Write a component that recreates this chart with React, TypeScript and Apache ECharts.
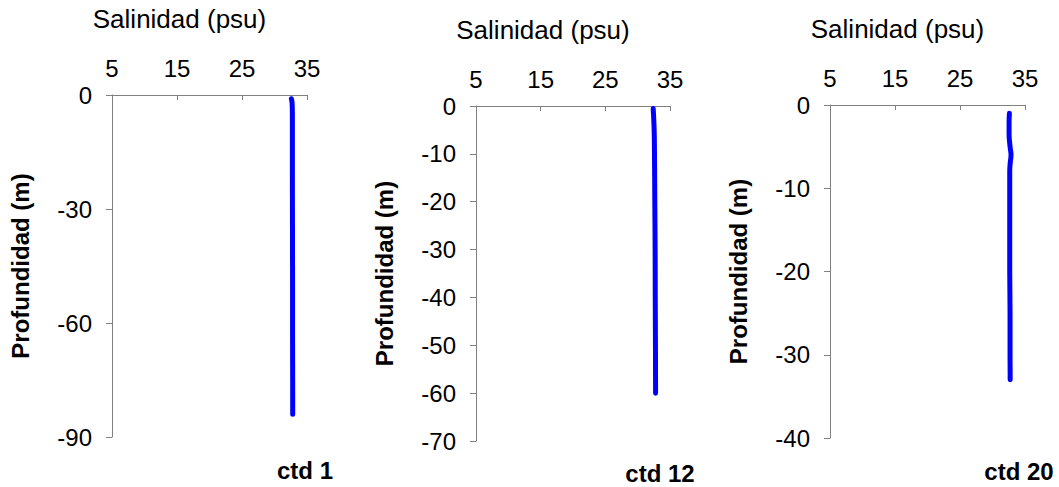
import React, { useEffect, useRef } from "react";
import * as echarts from "echarts";

// Salinity (psu) profiles vs depth (m) for three CTD stations
const ctd1Depth = [-1, -2, -5, -10, -20, -30, -40, -50, -60, -70, -80, -84];
const ctd1Sal = [32.6, 32.7, 32.75, 32.75, 32.75, 32.76, 32.77, 32.78, 32.78, 32.79, 32.8, 32.8];

const ctd12Depth = [-0.5, -5, -10, -20, -30, -40, -50, -60];
const ctd12Sal = [32.4, 32.55, 32.6, 32.65, 32.7, 32.72, 32.75, 32.77];

const ctd20Depth = [-1, -2, -3.5, -5, -6, -7, -8, -10, -15, -20, -25, -30, -33];
const ctd20Sal = [32.6, 32.55, 32.55, 32.7, 32.85, 32.72, 32.65, 32.65, 32.65, 32.65, 32.7, 32.7, 32.72];

const xTicks = { min: 5, max: 35, interval: 10 };
const yRanges = [
  { min: -90, max: 0, interval: 30 },
  { min: -70, max: 0, interval: 10 },
  { min: -40, max: 0, interval: 10 },
];
const stationLabels = ["ctd 1", "ctd 12", "ctd 20"];
const xTitle = "Salinidad (psu)";
const yTitle = "Profundidad (m)";

const grids = [
  { left: 112, top: 95, width: 195, height: 342 },
  { left: 476, top: 106, width: 194, height: 335 },
  { left: 830, top: 105, width: 195, height: 333 },
];
const labelPos = [
  { x: 305, y: 470 },
  { x: 660, y: 473 },
  { x: 1019, y: 471 },
];

const FONT = "'Liberation Sans', Arial, sans-serif";
const AXIS_COLOR = "#808080";

export default function App() {
  const ref = useRef<HTMLDivElement>(null);
  useEffect(() => {
    if (!ref.current) return;
    const chart = echarts.init(ref.current, null, { renderer: "svg" });
    const series = [
      [ctd1Depth, ctd1Sal],
      [ctd12Depth, ctd12Sal],
      [ctd20Depth, ctd20Sal],
    ].map(([d, s], i) => ({
      type: "line",
      xAxisIndex: i,
      yAxisIndex: i,
      data: d.map((dep, k) => [s[k], dep]),
      showSymbol: false,
      smooth: 0.4,
      lineStyle: { color: "#0000ff", width: 5, cap: "round", join: "round" },
    }));
    chart.setOption({
      animation: false,
      backgroundColor: "#ffffff",
      grid: grids.map((g) => ({ ...g, containLabel: false })),
      xAxis: grids.map((_, i) => ({
        type: "value",
        gridIndex: i,
        position: "top",
        min: xTicks.min,
        max: xTicks.max,
        interval: xTicks.interval,
        name: xTitle,
        nameLocation: "middle",
        nameGap: 63,
        nameTextStyle: {
          fontFamily: FONT,
          fontSize: 26,
          color: "#000",
          padding: [0, 60, 0, 0],
        },
        axisLine: { show: true, onZero: false, lineStyle: { color: AXIS_COLOR, width: 1 } },
        axisTick: { show: true, inside: true, length: 5, lineStyle: { color: AXIS_COLOR } },
        axisLabel: { fontFamily: FONT, fontSize: 24, color: "#000", margin: 15 },
        splitLine: { show: false },
      })),
      yAxis: yRanges.map((r, i) => ({
        type: "value",
        gridIndex: i,
        min: r.min,
        max: r.max,
        interval: r.interval,
        name: yTitle,
        nameLocation: "middle",
        nameGap: 80,
        nameTextStyle: {
          fontFamily: FONT,
          fontSize: 24,
          fontWeight: "bold",
          color: "#000",
        },
        axisLine: { show: true, onZero: false, lineStyle: { color: AXIS_COLOR, width: 1 } },
        axisTick: { show: true, inside: false, length: 6, lineStyle: { color: AXIS_COLOR } },
        axisLabel: { fontFamily: FONT, fontSize: 24, color: "#000", margin: 20 },
        splitLine: { show: false },
      })),
      series,
      graphic: stationLabels.map((t, i) => ({
        type: "text",
        x: labelPos[i].x,
        y: labelPos[i].y,
        style: {
          text: t,
          font: `bold 24px ${FONT}`,
          fill: "#000",
          align: "center",
          verticalAlign: "middle",
        },
      })),
    });
    return () => chart.dispose();
  }, []);
  return (
    <div
      ref={ref}
      style={{ position: "fixed", left: 0, top: 0, width: 1059, height: 487, background: "#fff" }}
    />
  );
}
